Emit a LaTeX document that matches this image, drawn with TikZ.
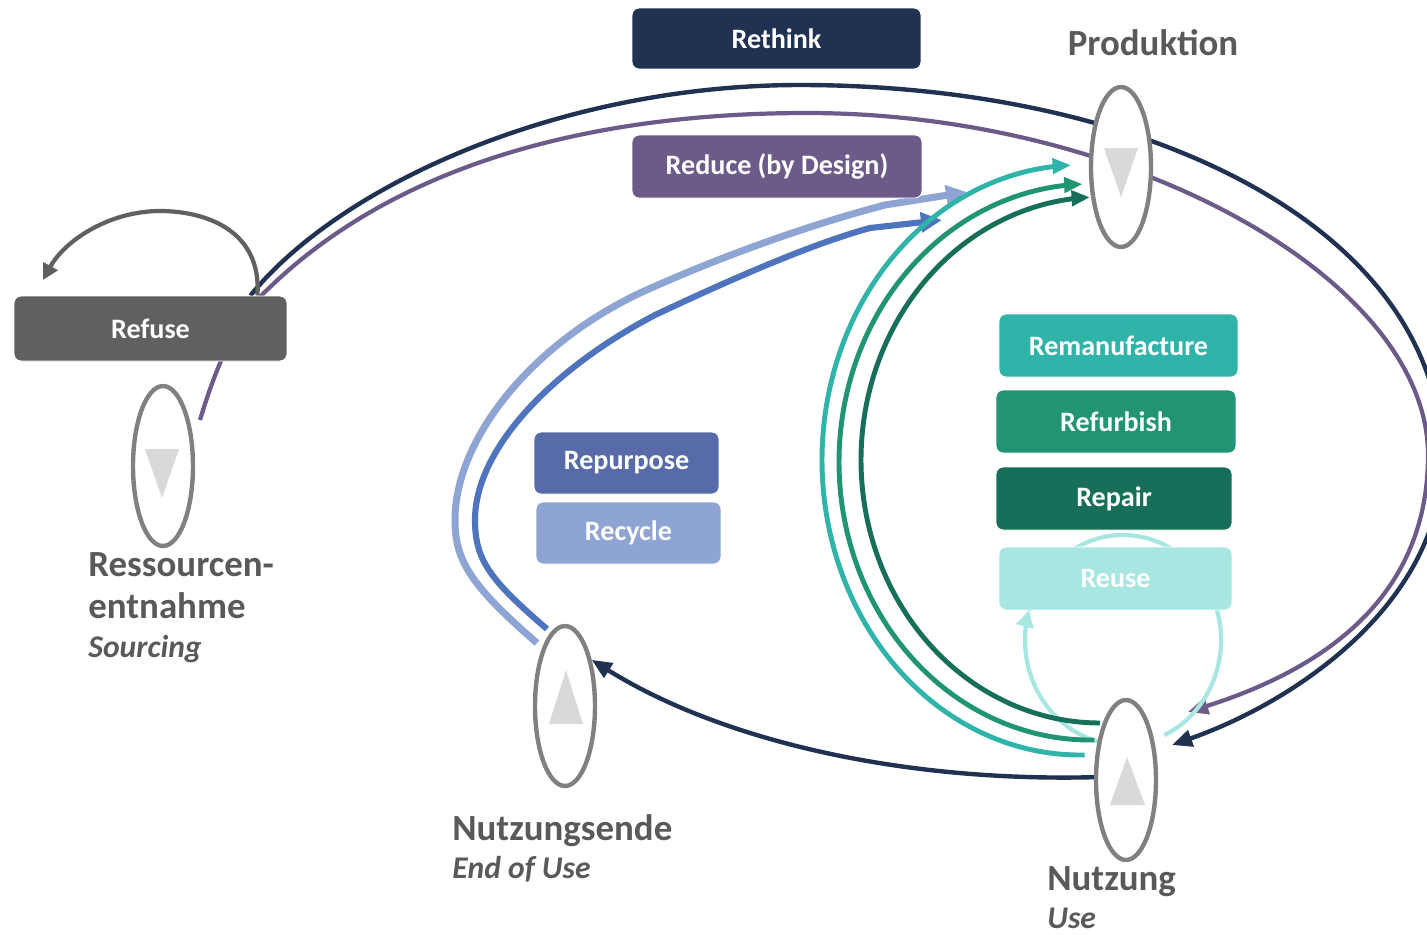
\documentclass[tikz,border=0pt]{standalone}
\usepackage{fontspec}
\setmainfont{Carlito}
\usepackage{tikz}
\usetikzlibrary{calc,arrows.meta,shapes.geometric}
\definecolor{rethinkc}{HTML}{203152}
\definecolor{reducec}{HTML}{6C5A88}
\definecolor{refusec}{HTML}{606060}
\definecolor{repurposec}{HTML}{586BA9}
\definecolor{repurposeln}{HTML}{4F74BE}
\definecolor{recyclec}{HTML}{8EA4D2}
\definecolor{remanc}{HTML}{30B3A8}
\definecolor{refurbc}{HTML}{209473}
\definecolor{repairc}{HTML}{176F5A}
\definecolor{reusec}{HTML}{A8E6E1}
\definecolor{ringc}{HTML}{808080}
\definecolor{tric}{HTML}{D9D9D9}
\definecolor{labelc}{HTML}{595959}
\def\ellarc[#1](#2,#3)(#4:#5:#6:#7){\draw[#1] plot[domain=#4:#5,samples=90,smooth] ({#2+#6*cos(\x)},{#3+#7*sin(\x)});}
\newcommand\sublbl{\bfseries\itshape\fontsize{18}{22}\selectfont}

\begin{document}
\begin{tikzpicture}[x=0.02cm,y=-0.02cm,
	cyclebox/.style={rounded corners=4pt, draw=white, line width=0.5pt, text=white, inner sep=0pt, font=\bfseries\fontsize{16}{18}\selectfont},
	hub/.style={ellipse, draw=ringc, line width=2.5pt, fill=white, minimum width=1.2cm, minimum height=3.2cm, inner sep=0pt},
	hubtri/.style={fill=tric},
	hublabel/.style={text=labelc, font=\bfseries\fontsize{21}{22}\selectfont, align=left, inner sep=0pt},
	bigtip/.style={-{Triangle[length=11.5pt,width=9.5pt]}},
	rethinkline/.style={draw=rethinkc, line width=2.5pt, bigtip},
	reduceline/.style={draw=reducec, line width=2.4pt, bigtip},
	recycleline/.style={draw=recyclec, line width=4pt, -{Triangle[length=12pt,width=11pt]}},
	repurposeline/.style={draw=repurposeln, line width=3.5pt, -{Triangle[length=12pt,width=11pt]}},
	greenline/.style={line width=2.8pt, -{Triangle[length=10.5pt,width=8.5pt]}},
	reuseline/.style={draw=reusec, line width=2.4pt},
	reusetip/.style={-{Triangle[length=9pt,width=10pt]}},
	refuseline/.style={draw=refusec, line width=2.4pt, -{Triangle[length=9pt,width=9pt]}}]
	%%%%% FRAME %%%%%
	\useasboundingbox (0,0) rectangle (1427,934);
	\clip (0,0) rectangle (1427,934);
	
	%%%%% NODES %%%%%
	\node[cyclebox, fill=rethinkc, minimum width=5.78cm, minimum height=1.22cm] (rethink) at (776.5,38.5) {Rethink};
	\node[cyclebox, fill=refusec, minimum width=5.46cm, minimum height=1.30cm] (refuse) at (150.5,328.5) {Refuse};
	\coordinate (rethinkend) at (1172,745);
	\coordinate (reduceend) at (1188,712);
	
	%%%%% OUTER LOOPS %%%%%
	\draw[rethinkline] ($(refuse.north east)+(-37,0)$) .. controls (340,185) and (560,85) .. (800,85)
		.. controls (1150,85) and (1442,230) .. (1442,460)
		.. controls (1442,600) and (1300,700) .. (rethinkend);
	\draw[reduceline] (200,420) .. controls (215,370) and (235,320) .. (267,290)
		.. controls (400,160) and (600,113) .. (807,113)
		.. controls (1130,113) and (1428,280) .. (1428,455)
		.. controls (1428,600) and (1320,670) .. (reduceend);
	
	%%%%% RECYCLE / REPURPOSE %%%%%
	\draw[recycleline] (537,643) .. controls (470,585) and (455,560) .. (455,520)
		.. controls (455,440) and (530,345) .. (640,293)
		.. controls (730,252) and (820,222) .. (885,205) -- (967,192);
	\draw[repurposeline] (547,629) .. controls (490,580) and (475,560) .. (475,520)
		.. controls (475,450) and (550,370) .. (655,315)
		.. controls (740,275) and (815,243) .. (870,228) -- (942,220);
	
	%%%%% REUSE + INNER LOOPS %%%%%
	\ellarc[reuseline, reusetip](1123,640)(100:196:98:105);
	\ellarc[reuseline](1123,640)(196:425:98:105);
	\ellarc[greenline, draw=remanc](1080,460)(89:268:258:295);
	\ellarc[greenline, draw=refurbc](1090,462)(89:268.3:251:278);
	\ellarc[greenline, draw=repairc](1100,460)(90:267.6:239:263);
	
	%%%%% REFUSE %%%%%
	\draw[refuseline] ($(refuse.north east)+(-30,0)$) .. controls (262,230) and (205,211) .. (160,211)
		.. controls (110,211) and (65,240) .. (43,280);
	\node[cyclebox, fill=refusec, minimum width=5.46cm, minimum height=1.30cm] at (refuse) {Refuse};
	
	%%%%% BOXES %%%%%
	\node[cyclebox, fill=reducec, minimum width=5.80cm, minimum height=1.26cm] (reduce) at (777,166.5) {Reduce (by Design)};
	\node[cyclebox, fill=repurposec, minimum width=3.70cm, minimum height=1.24cm] (repurpose) at (626.5,463) {Repurpose};
	\node[cyclebox, fill=recyclec, minimum width=3.70cm, minimum height=1.24cm] (recycle) at (628.5,533) {Recycle};
	\node[cyclebox, fill=remanc, minimum width=4.78cm, minimum height=1.26cm] (reman) at (1118.5,345.5) {Remanufacture};
	\node[cyclebox, fill=refurbc, minimum width=4.80cm, minimum height=1.26cm] (refurb) at (1116,421.5) {Refurbish};
	\node[cyclebox, fill=repairc, minimum width=4.72cm, minimum height=1.26cm] (repair) at (1114,498.5) {Repair};
	\node[cyclebox, fill=reusec, minimum width=4.66cm, minimum height=1.26cm] (reuse) at (1115.5,578.5) {Reuse};
	
	%%%%% STAGES %%%%%
	\node[hub] (prod) at (1121,167) {};
	\node[hub] (ress) at (163,466) {};
	\node[hub] (ende) at (565,706) {};
	\node[hub] (nutz) at (1126,780) {};
	\fill[hubtri] (1104,148) -- (1138,148) -- (1121,197) -- cycle;
	\fill[hubtri] (145,449) -- (179,449) -- (162,498) -- cycle;
	\fill[hubtri] (549,724) -- (583,724) -- (566,670) -- cycle;
	\fill[hubtri] (1110,805) -- (1145,805) -- (1127,757) -- cycle;
	
	\draw[rethinkline] (nutz.175) .. controls (900,782) and (720,740) .. (ende.60);
	
	%%%%% LABELS %%%%%
	\node[hublabel] (prodlabel) at (1153,43) {Produktion};
	\node[hublabel, anchor=north west] (resslabel) at (88,552) {Ressourcen-\\[2pt]entnahme\\{\sublbl Sourcing}};
	\node[hublabel, anchor=north west] (endelabel) at (452,814) {Nutzungsende\\{\sublbl End of Use}};
	\node[hublabel, anchor=north west] (nutzlabel) at (1047,866) {Nutzung\\{\sublbl Use}};
\end{tikzpicture}
\end{document}
